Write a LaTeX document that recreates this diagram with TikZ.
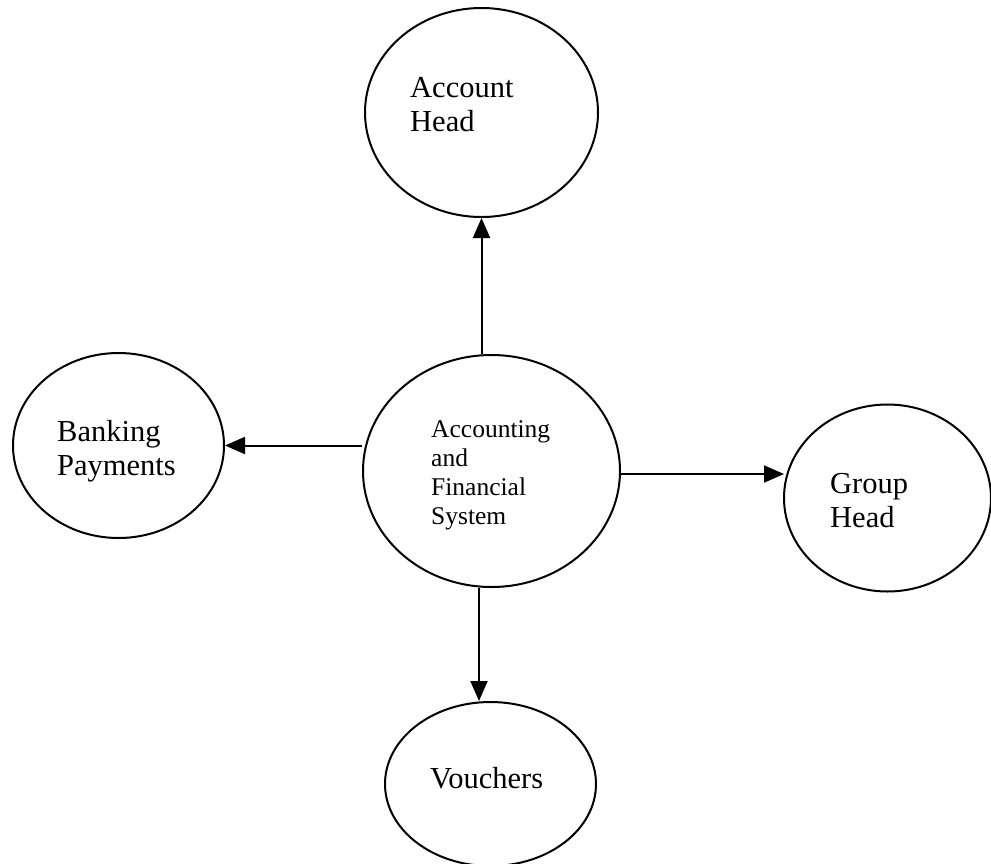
\documentclass[tikz,border=0pt]{standalone}
\usepackage{fontspec}
\setmainfont{Liberation Serif}
\usetikzlibrary{shapes.geometric,arrows.meta,calc}

\tikzset{
  bubble/.style={draw=black, line width=2pt, ellipse, inner sep=0pt,
                 minimum width=#1},
  % multi-line labels are placed by the baseline of their last line
  label big/.style={anchor=base west, inner sep=0pt, align=left,
                    font=\fontsize{30.5}{34}\selectfont},
  label small/.style={anchor=base west, inner sep=0pt, align=left,
                      font=\fontsize{25.5}{28.7}\selectfont},
  flow/.style={line width=2pt, -{Triangle[length=20pt,width=17pt]}}
}

\begin{document}
\begin{tikzpicture}[x=1pt, y=-1pt]
  \useasboundingbox (0,0) rectangle (991,863);
  \clip (0,0) rectangle (991,863);

  % outline bubbles
  \node[bubble=233pt, minimum height=209pt] (ah)  at (481.5,112.5) {};
  \node[bubble=257pt, minimum height=232pt] (afs) at (491.5,471)   {};
  \node[bubble=211pt, minimum height=185pt] (bp)  at (118.5,445.5) {};
  \node[bubble=207pt, minimum height=187pt] (gh)  at (887.5,498)   {};
  \node[bubble=211pt, minimum height=164pt] (vo)  at (490.5,784)   {};

  % labels
  \node[label big]   (ahtext)  at (410,131) {Account\\Head};
  \node[label small] (afstext) at (431,524) {Accounting\\and\\Financial\\System};
  \node[label big]   (bptext)  at (57,475)  {Banking\\Payments};
  \node[label big]   (ghtext)  at (830,527) {Group\\Head};
  \node[label big]   (votext)  at (430,788) {Vouchers};

  % connectors
  \draw[flow] (afs.north -| ah.south) -- (ah.south);
  \draw[flow] (afs.west |- bp.east) -- (bp.east);
  \draw[flow] ($(afs.east)+(0,3)$) -- ($(afs.east -| gh.west)+(1,3)$);
  \draw[flow] ($(afs.south)+(-12.5,0)$) -- ($(vo.north)+(-11.5,0)$);
\end{tikzpicture}
\end{document}
